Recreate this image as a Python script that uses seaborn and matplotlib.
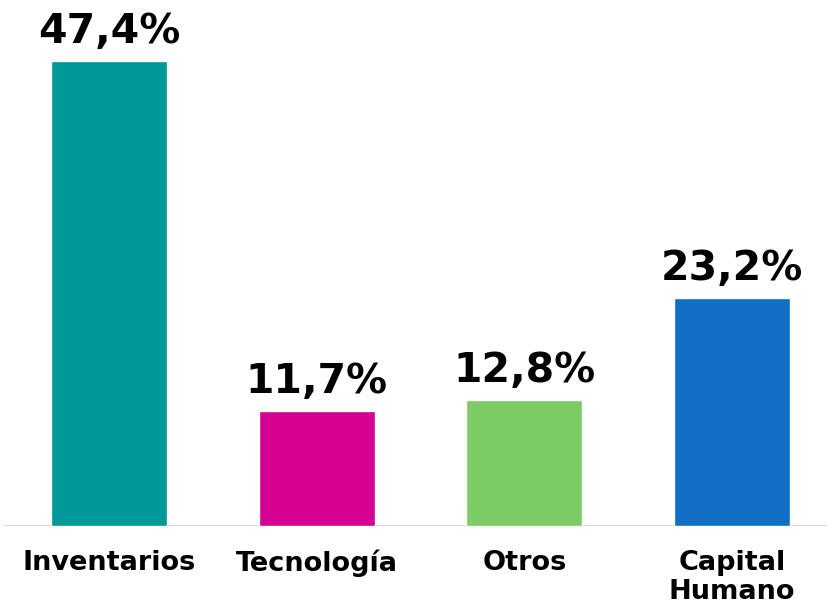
import numpy as np
import pandas as pd
import seaborn as sns
import matplotlib.pyplot as plt

categorias = ["Inventarios", "Tecnología", "Otros", "Capital\nHumano"]
valores = [47.4, 11.7, 12.8, 23.2]
etiquetas = ["47,4%", "11,7%", "12,8%", "23,2%"]
colores = ["#009999", "#D60093", "#7DCB64", "#106EC4"]

sns.set_style("white")
plt.rcParams['font.family'] = ['DejaVu Sans']

df = pd.DataFrame({"categoria": categorias, "valor": valores})

fig = plt.figure(figsize=(8.27, 6.06), dpi=100)
ax = fig.add_axes([0, 80 / 606, 1, 526 / 606])
sns.barplot(data=df, x="categoria", y="valor", hue="categoria",
            palette=colores, width=0.558, legend=False, ax=ax, saturation=1)

ax.set_xlim(-0.525, 3.457)
ax.set_ylim(0, 53.6)
for s in ax.spines.values():
    s.set_visible(False)
ax.axhline(0, xmin=5 / 827, xmax=1, color="#D9D9D9", lw=1.6, zorder=0)

ax.set_yticks([])
ax.set_xlabel("")
ax.set_ylabel("")
ax.tick_params(axis="x", length=0, pad=17)
for t in ax.get_xticklabels():
    t.set_fontsize(19.5)
    t.set_fontweight("bold")
    t.set_color("black")
    t.set_linespacing(1.15)

for i, (v, lab) in enumerate(zip(valores, etiquetas)):
    ax.annotate(lab, (i, v), xytext=(0, 13), textcoords="offset points",
                ha="center", va="baseline", fontsize=29.5, fontweight="bold",
                color="black")

fig.savefig("out.png", dpi=100)
